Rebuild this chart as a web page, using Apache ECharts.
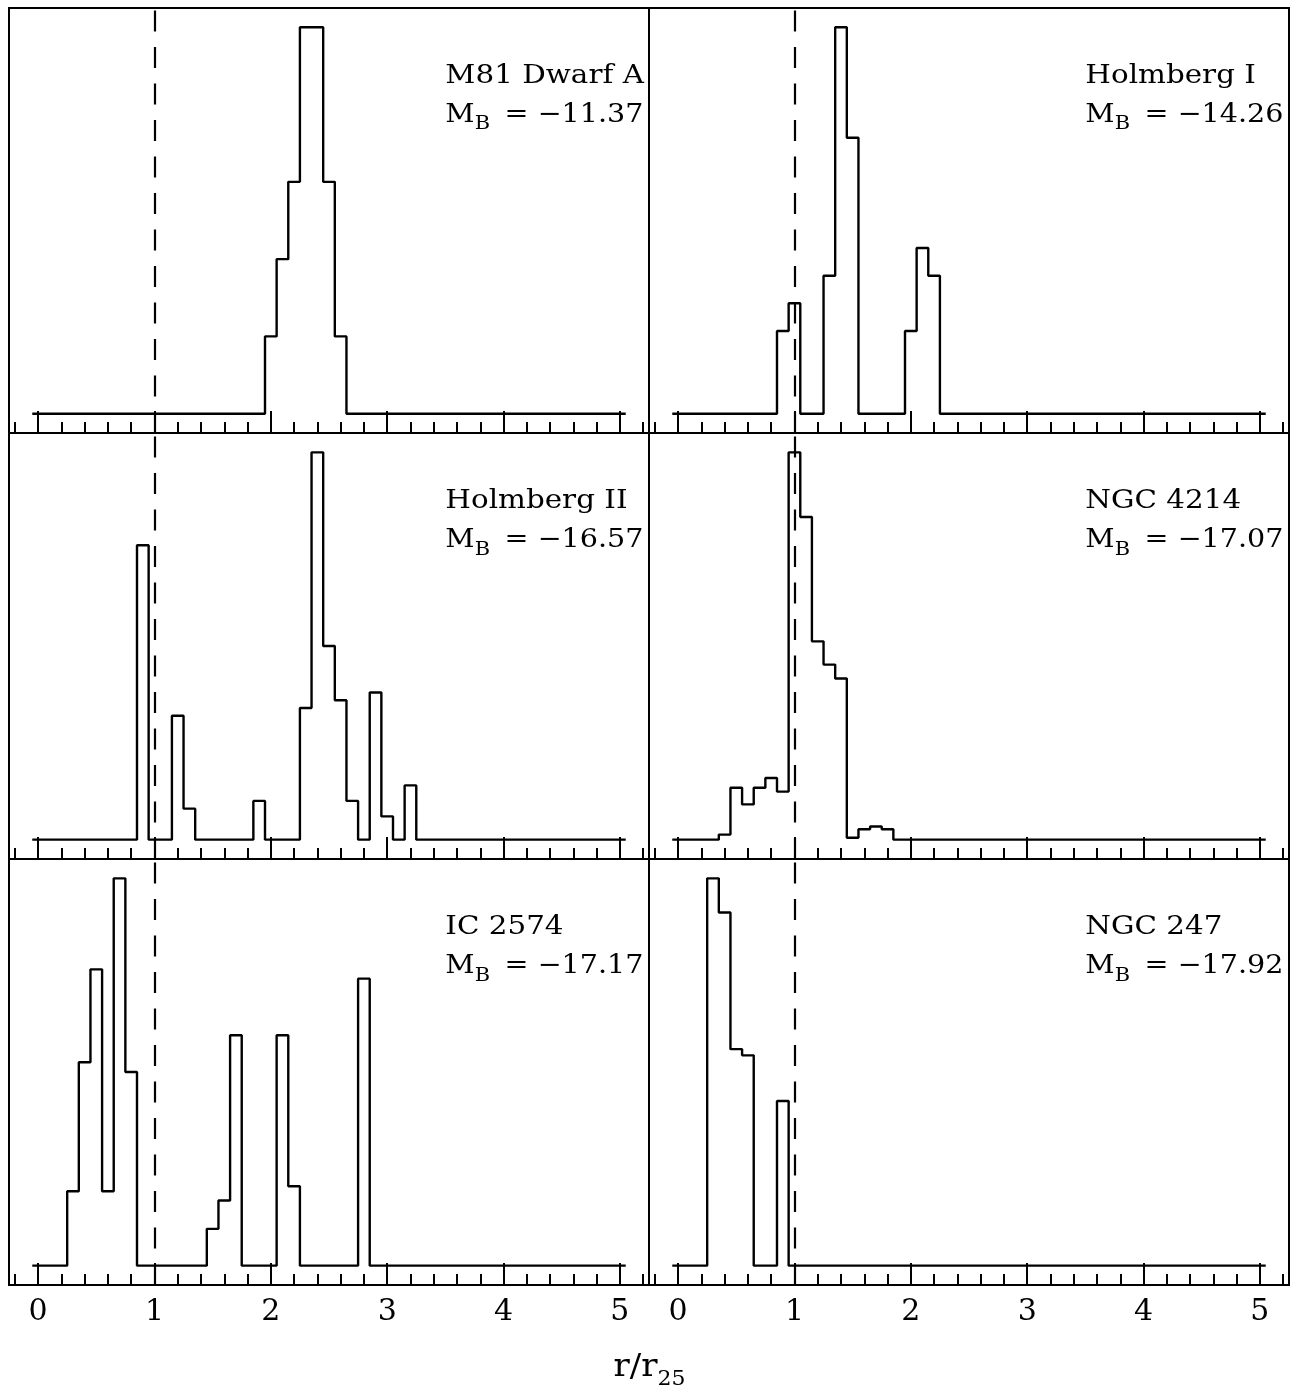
<!DOCTYPE html>
<html><head><meta charset="utf-8">
<script src="https://cdn.jsdelivr.net/npm/echarts@6/dist/echarts.min.js"></script>
<style>html,body{margin:0;padding:0;background:#fff}#c{width:1291px;height:1392px}</style>
</head><body><div id="c"></div>
<script>
// ---- data ----
const galaxyNames = ['M81 Dwarf A', 'Holmberg I', 'Holmberg II', 'NGC 4214', 'IC 2574', 'NGC 247'];
const magnitudes = ['\u221211.37', '\u221214.26', '\u221216.57', '\u221217.07', '\u221217.17', '\u221217.92'];
// bin centres (r/r25, bin width 0.1) and normalised heights of the non-empty bins
const m81dwaBins = [2.0, 2.1, 2.2, 2.3, 2.4, 2.5, 2.6];
const m81dwaVals = [0.20, 0.40, 0.60, 1.00, 1.00, 0.60, 0.20];
const hoIBins = [0.9, 1.0, 1.3, 1.4, 1.5, 2.0, 2.1, 2.2];
const hoIVals = [0.214, 0.286, 0.357, 1.00, 0.714, 0.214, 0.429, 0.357];
const hoIIBins = [0.9, 1.2, 1.3, 1.9, 2.3, 2.4, 2.5, 2.6, 2.7, 2.9, 3.0, 3.2];
const hoIIVals = [0.76, 0.32, 0.08, 0.10, 0.34, 1.00, 0.50, 0.36, 0.10, 0.38, 0.06, 0.14];
const ngc4214Bins = [0.4, 0.5, 0.6, 0.7, 0.8, 0.9, 1.0, 1.1, 1.2, 1.3, 1.4, 1.5, 1.6, 1.7, 1.8];
const ngc4214Vals = [0.013, 0.134, 0.091, 0.134, 0.159, 0.124, 1.00, 0.833, 0.512, 0.452, 0.416, 0.005, 0.027, 0.034, 0.027];
const ic2574Bins = [0.3, 0.4, 0.5, 0.6, 0.7, 0.8, 1.5, 1.6, 1.7, 2.1, 2.2, 2.8];
const ic2574Vals = [0.192, 0.525, 0.765, 0.192, 1.00, 0.50, 0.095, 0.168, 0.595, 0.595, 0.205, 0.741];
const ngc247Bins = [0.3, 0.4, 0.5, 0.6, 0.9];
const ngc247Vals = [1.00, 0.912, 0.559, 0.543, 0.425];
const majorTicks = [0, 1, 2, 3, 4, 5];
const tickLabels = ['0', '1', '2', '3', '4', '5'];
const minorTicks = [-0.2, 0.2, 0.4, 0.6, 0.8, 1.2, 1.4, 1.6, 1.8, 2.2, 2.4, 2.6, 2.8, 3.2, 3.4, 3.6, 3.8, 4.2, 4.4, 4.6, 4.8, 5.2];
const refLine = 1;
const histRange = [0, 5];     // histogram extends over bins 0.0 ... 5.0
const binWidth = 0.1;
const axisTitle = ['r/r', '25'];

const panels = [
  [m81dwaBins, m81dwaVals], [hoIBins, hoIVals],
  [hoIIBins, hoIIVals], [ngc4214Bins, ngc4214Vals],
  [ic2574Bins, ic2574Vals], [ngc247Bins, ngc247Vals]
];

// step outline: one point at the left edge of every bin (zero where empty)
function stepData(bins, vals) {
  const lookup = {};
  bins.forEach((b, i) => { lookup[Math.round(b / binWidth)] = vals[i]; });
  const n0 = Math.round(histRange[0] / binWidth), n1 = Math.round(histRange[1] / binWidth);
  const pts = [];
  for (let k = n0; k <= n1; k++) {
    pts.push([+(k * binWidth - binWidth / 2).toFixed(3), lookup[k] !== undefined ? lookup[k] : 0]);
  }
  pts.push([+(n1 * binWidth + binWidth / 2).toFixed(3), 0]);
  return pts;
}

// ---- layout ----
const colLeft = [9, 649], colW = 640;
const rowTop = [8, 433, 859], rowH = [425, 426, 426];
const FONT = '"DejaVu Serif", "Liberation Serif", serif';

const grid = [], xAxis = [], yAxis = [], series = [];
panels.forEach((p, i) => {
  const row = Math.floor(i / 2), col = i % 2;
  grid.push({ left: colLeft[col], top: rowTop[row], width: colW, height: rowH[row],
    show: true, borderColor: '#000', borderWidth: 2, containLabel: false });
  const common = { type: 'value', gridIndex: i, min: -0.25, max: 5.25, position: 'bottom',
    axisLine: { show: false, onZero: false }, splitLine: { show: false } };
  xAxis.push(Object.assign({}, common, {
    axisTick: { show: true, inside: true, length: 22, customValues: majorTicks, lineStyle: { color: '#000', width: 2 } },
    axisLabel: { show: row === 2, customValues: majorTicks, margin: 12,
      formatter: v => tickLabels[majorTicks.indexOf(v)], fontFamily: FONT, fontSize: 30, color: '#000' }
  }));
  xAxis.push(Object.assign({}, common, {
    axisTick: { show: true, inside: true, length: 11, customValues: minorTicks, lineStyle: { color: '#000', width: 2 } },
    axisLabel: { show: false }
  }));
  yAxis.push({ type: 'value', gridIndex: i, min: -0.05, max: 1.05, show: false, splitLine: { show: false } });
  series.push({
    type: 'line', xAxisIndex: 2 * i, yAxisIndex: i, step: 'end', symbol: 'none',
    data: stepData(p[0], p[1]), lineStyle: { color: '#000', width: 2.4 }, silent: true,
    markLine: { silent: true, symbol: ['none', 'none'], label: { show: false },
      lineStyle: { color: '#000', width: 2.2, type: [21, 15.5] }, data: [{ xAxis: refLine }] }
  });
});

const chart = echarts.init(document.getElementById('c'), null, { renderer: 'canvas' });
chart.setOption({ animation: false, backgroundColor: '#fff', grid, xAxis, yAxis, series });

// ---- text labels (anchored at r/r25 = 3.5 in each panel) ----
const mainSt = { fontFamily: FONT, fontSize: 26, lineHeight: 26, padding: [0, 0, 6, 0], verticalAlign: 'bottom', fill: '#000' };
const subSt = { fontFamily: FONT, fontSize: 19, lineHeight: 19, padding: [0, 5, 0, 0], verticalAlign: 'bottom', fill: '#000' };
const graphic = [];
panels.forEach((p, i) => {
  const a = chart.convertToPixel({ seriesIndex: i }, [3.5, 0.85]);
  const b = chart.convertToPixel({ seriesIndex: i }, [3.5, 0.75]);
  graphic.push({ type: 'text', x: a[0], y: a[1] + 10, scaleX: 1.13, silent: true,
    style: { text: '{m|' + galaxyNames[i] + '}', align: 'left', verticalAlign: 'bottom', rich: { m: mainSt } } });
  graphic.push({ type: 'text', x: b[0], y: b[1] + 10, scaleX: 1.1, silent: true,
    style: { text: '{m|M}{s|B}{m| = ' + magnitudes[i] + '}', align: 'left', verticalAlign: 'bottom', rich: { m: mainSt, s: subSt } } });
});
graphic.push({ type: 'text', x: 649.5, y: 1390, scaleX: 1.1, silent: true,
  style: { text: '{m|' + axisTitle[0] + '}{s|' + axisTitle[1] + '}', align: 'center', verticalAlign: 'bottom',
    rich: { m: { fontFamily: FONT, fontSize: 31, lineHeight: 31, padding: [0, 0, 7, 0], verticalAlign: 'bottom', fill: '#000' },
            s: { fontFamily: FONT, fontSize: 20, lineHeight: 20, verticalAlign: 'bottom', fill: '#000' } } } });
chart.setOption({ graphic });
</script></body></html>
